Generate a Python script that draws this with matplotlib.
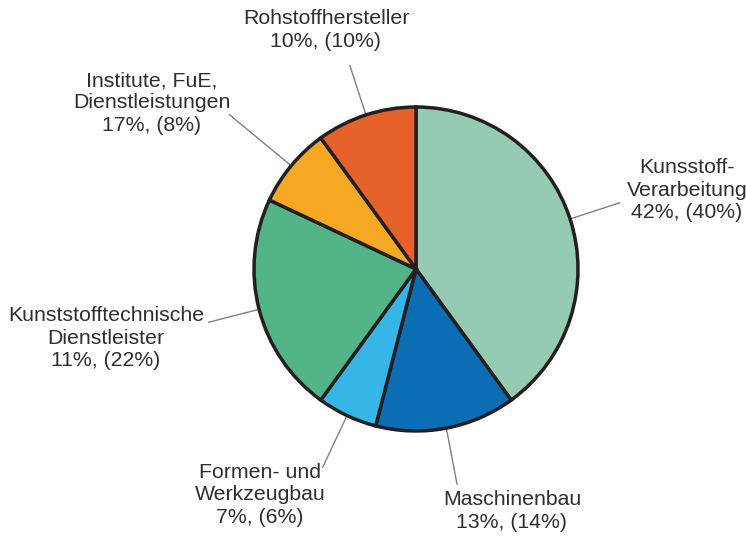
import numpy as np
import matplotlib.pyplot as plt

plt.rcParams['font.family'] = ['Liberation Sans', 'DejaVu Sans']

# data (clockwise from 12 o'clock)
labels = ['Kunsstoff-\nVerarbeitung', 'Maschinenbau', 'Formen- und\nWerkzeugbau',
          'Kunststofftechnische\nDienstleister', 'Institute, FuE,\nDienstleistungen',
          'Rohstoffhersteller']
share_a = [42, 13, 7, 11, 17, 10]      # first percentage in label
share_b = [40, 14, 6, 22, 8, 10]       # percentage in brackets (slice size)
colors = ['#95cbb3', '#0b6db4', '#36b6e6', '#52b487', '#f4a824', '#e5622a']

# layout (pixels, y from top)
W, H = 746, 540
cx, cy, R = 416, 269, 162
text_pos = [(687, 190), (512, 511), (260, 495), (106, 338), (152, 103), (326, 30)]
leader_len = [52, 57, 57, 52, 80, 52]

fig = plt.figure(figsize=(W / 100, H / 100), dpi=100)
ax = fig.add_axes([0, 0, 1, 1])

wedges, _ = ax.pie(share_b, colors=colors, startangle=90, counterclock=False,
                   center=(cx, H - cy), radius=R,
                   wedgeprops=dict(edgecolor='#231f20', linewidth=2.5))

for w, lab, a, b, (tx, ty), L in zip(wedges, labels, share_a, share_b, text_pos, leader_len):
    th = np.deg2rad((w.theta1 + w.theta2) / 2)
    x0, y0 = cx + R * np.cos(th), (H - cy) + R * np.sin(th)
    x1, y1 = cx + (R + L) * np.cos(th), (H - cy) + (R + L) * np.sin(th)
    ax.plot([x0, x1], [y0, y1], color='#808080', linewidth=1.0, zorder=0)
    ax.text(tx, H - ty, f'{lab}\n{a}%, ({b}%)', ha='center', va='center',
            fontsize=15.3, color='#2e2e2e', linespacing=1.22)

ax.set_xlim(0, W)
ax.set_ylim(0, H)
ax.set_aspect('equal')
ax.axis('off')

fig.savefig('out.png', dpi=100)
